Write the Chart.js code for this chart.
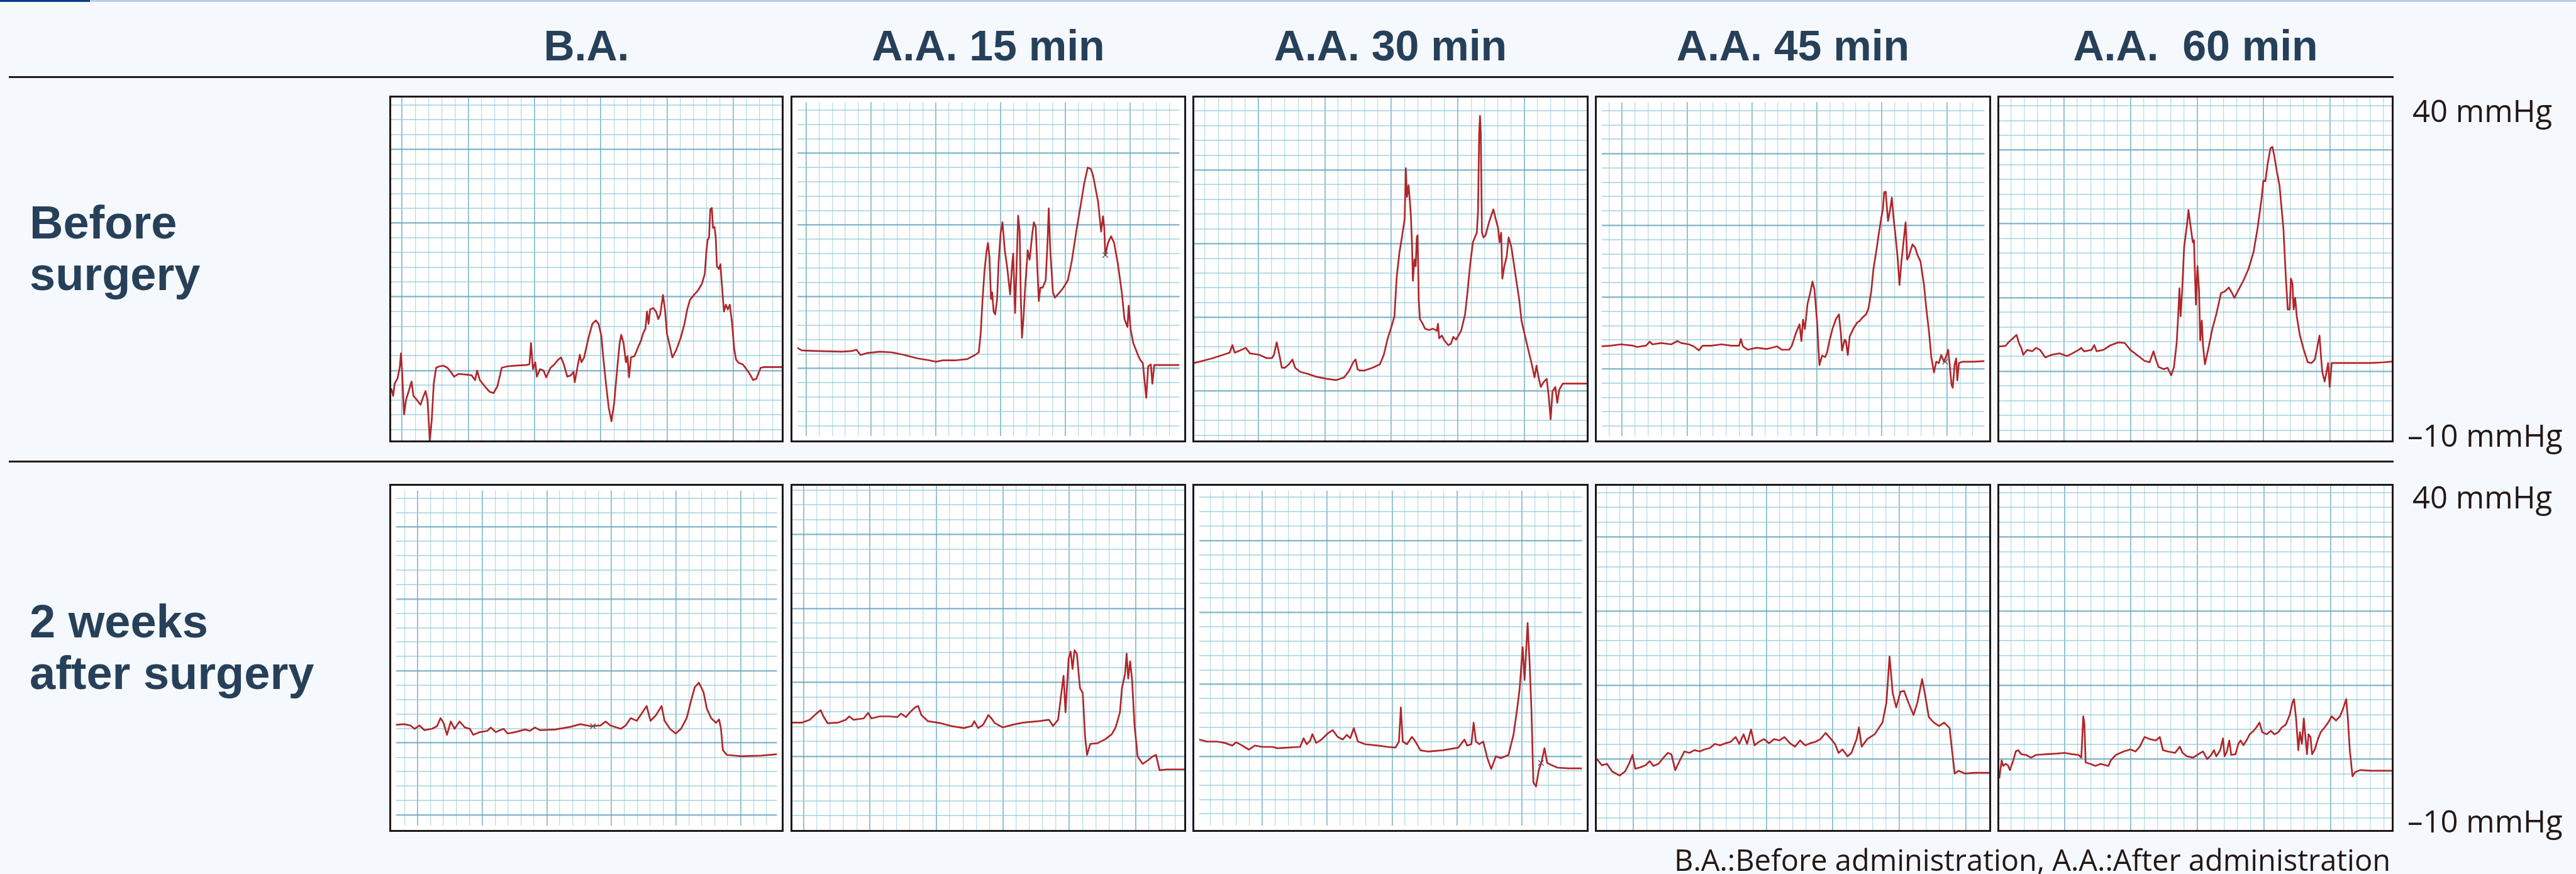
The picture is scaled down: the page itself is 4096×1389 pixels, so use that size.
<!DOCTYPE html>
<html><head><meta charset="utf-8">
<script src="https://cdn.jsdelivr.net/npm/chart.js@4.4.1/dist/chart.umd.min.js"></script>
<style>
html,body{margin:0;padding:0;background:#f5f9fd;}
#stage{position:relative;width:4096px;height:1389px;overflow:hidden;background:#f5f9fd;}
.panel{position:absolute;box-sizing:border-box;border:3px solid #1d1819;background:#ffffff;}
.panel canvas{display:block;}
#overlay{position:absolute;left:0;top:0;pointer-events:none;}
</style></head>
<body><div id="stage"></div>
<script>
// ---------------- categories / labels ----------------
const columns = ['B.A.', 'A.A. 15 min', 'A.A. 30 min', 'A.A. 45 min', 'A.A.  60 min'];
const rowLines = [['Before', 'surgery'], ['2 weeks', 'after surgery']];
const yTickTop = '40 mmHg';
const yTickBottom = '–10 mmHg';
const footnote = 'B.A.:Before administration, A.A.:After administration';
const yMin = -10, yMax = 40;   // mmHg
const xMin = 0, xMax = 100;    // % of recording window

// ---------------- series: [time %, pressure mmHg] ----------------
const beforeBA = [[0,-2.4],[0.5,-3.5],[0.9,-1.7],[1.6,-1.0],[2.2,0.7],[2.5,2.7],[2.8,0.0],[3.3,-6.2],[3.8,-4.1],[4.5,-2.8],[5.2,-1.4],[5.7,-3.5],[6.6,-4.1],[7.5,-4.8],[8.1,-3.8],[8.8,-2.8],[9.3,-4.1],[9.9,-10.0],[10.4,-6.9],[10.9,-1.7],[11.5,0.6],[12.3,0.8],[13.4,0.9],[14.4,0.6],[15.4,-0.1],[16.1,-0.7],[17.2,-0.3],[19.3,-0.4],[20.6,-0.5],[21.5,-1.2],[22.0,0.2],[22.7,-1.2],[24.1,-2.2],[25.2,-2.9],[26.2,-3.1],[27.2,-2.1],[28.3,0.6],[29.7,0.8],[31.7,0.9],[34.5,1.0],[35.4,1.1],[35.8,4.2],[36.3,0.4],[36.9,1.4],[37.3,-0.7],[38.1,0.4],[39.0,0.2],[39.7,-0.8],[40.8,0.6],[41.8,1.1],[42.8,1.8],[43.5,2.1],[44.2,1.1],[45.1,-0.7],[46.0,-0.5],[46.7,0.0],[47.0,-1.5],[47.7,0.7],[48.3,2.5],[48.7,1.4],[49.4,2.1],[50.5,4.9],[51.5,7.0],[52.4,7.5],[53.1,7.0],[53.8,5.3],[54.3,2.1],[55.0,-1.7],[55.7,-5.2],[56.4,-7.2],[57.1,-4.5],[57.8,0.0],[58.5,4.2],[58.9,5.4],[59.5,4.2],[60.1,1.4],[60.5,2.3],[60.9,-0.8],[61.4,2.1],[62.3,2.3],[63.3,3.7],[64.0,4.6],[64.5,5.6],[65.1,6.3],[65.5,8.8],[65.9,7.0],[66.3,9.1],[67.1,9.3],[67.8,8.8],[68.4,7.7],[68.9,8.4],[69.6,11.2],[70.1,9.1],[70.6,5.6],[71.3,3.9],[72.0,2.1],[73.0,3.2],[74.1,4.9],[75.1,7.0],[75.8,9.1],[76.5,10.5],[77.5,11.2],[78.6,11.9],[79.6,12.9],[80.3,14.3],[80.7,17.5],[81.0,19.2],[81.4,19.6],[81.7,23.7],[82.1,23.9],[82.4,21.0],[82.8,21.1],[83.1,19.6],[83.4,15.4],[83.9,15.0],[84.3,15.7],[84.6,13.3],[85.2,8.8],[85.7,9.8],[86.2,9.1],[86.7,9.8],[87.3,7.0],[87.8,3.5],[88.3,1.8],[89.0,1.3],[90.0,1.1],[90.7,0.6],[91.8,-0.3],[92.7,-1.2],[93.5,-1.0],[94.6,0.6],[95.6,0.7],[97.7,0.7],[100,0.7]];

const before15 = [[0,3.2],[1.2,2.8],[5.2,2.7],[11.7,2.6],[14.3,2.7],[15.5,2.9],[16.6,2.1],[18.3,2.4],[21.6,2.6],[24.8,2.5],[28.1,2.1],[31.4,1.6],[34.7,1.3],[36.3,1.1],[38.0,1.3],[41.3,1.3],[44.5,1.5],[46.5,2.1],[47.5,2.5],[48.0,5.3],[48.5,10.5],[49.0,14.7],[49.5,17.5],[49.9,18.9],[50.3,16.8],[50.7,10.5],[51.0,11.5],[51.4,8.6],[51.8,8.2],[52.3,10.5],[52.7,16.1],[53.2,20.3],[53.7,22.0],[54.3,17.8],[54.9,15.4],[55.7,11.2],[56.2,15.4],[56.5,17.3],[57.0,8.4],[57.5,17.5],[57.8,23.0],[58.2,20.6],[58.5,10.5],[58.8,4.7],[59.2,7.7],[59.6,11.9],[60.3,17.8],[60.8,16.4],[61.5,20.3],[61.9,22.0],[62.4,21.3],[62.8,15.4],[63.2,10.2],[63.6,12.2],[64.2,12.2],[65.0,13.3],[65.5,19.2],[65.8,24.1],[66.2,17.8],[66.9,11.5],[67.4,10.7],[68.2,11.2],[69.5,12.1],[70.8,13.3],[71.8,16.1],[73.1,21.0],[74.1,24.4],[75.1,27.9],[76.0,30.2],[76.8,30.0],[77.4,29.0],[78.0,27.2],[78.7,25.1],[79.5,20.6],[80.0,22.9],[80.3,21.3],[80.6,17.1],[81.3,18.9],[82.1,19.9],[82.9,18.9],[83.9,15.7],[84.9,11.5],[85.6,7.5],[86.4,6.3],[86.7,9.5],[87.2,6.0],[87.9,3.9],[89.2,2.0],[89.8,1.3],[90.4,0.9],[90.8,-1.4],[91.3,-4.3],[91.8,0.4],[92.5,0.7],[92.9,-2.2],[93.4,0.6],[94.4,0.6],[97.0,0.6],[100,0.6]];

const before30 = [[0,1.3],[2.1,1.6],[4.7,2.0],[7.4,2.5],[9.0,2.8],[9.7,3.9],[10.3,2.8],[12.0,3.2],[13.1,3.5],[14.2,2.7],[16.5,2.5],[18.5,2.0],[19.8,2.0],[20.3,2.5],[21.0,4.3],[21.6,2.7],[22.3,0.6],[23.1,0.6],[24.1,1.1],[25.0,1.8],[25.7,0.6],[27.0,0.0],[29.0,-0.3],[31.0,-0.7],[33.6,-1.0],[36.2,-1.2],[38.2,-0.8],[39.5,0.2],[40.5,1.4],[41.1,1.8],[41.6,0.4],[42.1,0.2],[43.4,0.2],[45.4,0.6],[47.3,1.1],[48.3,2.5],[49.3,4.9],[50.3,6.7],[51.0,8.1],[51.6,14.0],[52.3,17.5],[52.9,19.6],[53.6,22.3],[53.9,29.7],[54.2,25.5],[54.6,27.2],[54.9,25.1],[55.2,22.7],[55.5,18.2],[55.7,13.3],[56.1,16.4],[56.4,15.4],[56.7,19.6],[56.9,19.9],[57.2,10.5],[57.5,7.7],[58.2,7.0],[58.8,6.3],[59.8,6.1],[60.8,6.3],[61.8,6.0],[62.1,7.0],[62.4,4.9],[63.1,5.3],[63.7,4.6],[64.7,3.9],[65.4,4.1],[66.0,5.1],[66.7,4.7],[68.0,6.0],[69.0,8.4],[69.6,11.5],[70.3,15.7],[71.0,18.9],[71.5,19.6],[72.0,20.3],[72.3,23.4],[72.6,34.9],[72.8,37.3],[73.0,34.9],[73.3,20.3],[73.7,19.6],[74.2,19.9],[75.2,22.0],[76.2,23.7],[76.8,22.3],[77.4,21.0],[77.8,18.9],[78.2,20.3],[78.5,13.6],[79.0,15.4],[79.6,16.8],[80.1,19.6],[80.8,18.2],[81.8,14.3],[82.8,10.5],[83.4,7.4],[84.7,4.2],[86.0,1.1],[86.7,-0.8],[87.2,0.9],[87.7,-0.7],[88.3,-2.2],[89.0,-1.5],[89.8,-1.0],[90.3,-3.5],[90.8,-6.9],[91.3,-2.8],[92.0,-2.2],[92.5,-4.5],[93.0,-2.6],[93.9,-1.7],[96.5,-1.7],[100,-1.7]];

const before45 = [[0,3.4],[2.4,3.5],[5.1,3.7],[8.3,3.5],[9.3,3.3],[10.3,3.4],[11.6,3.5],[12.6,4.1],[13.3,3.7],[15.6,3.9],[18.2,3.7],[19.8,4.2],[20.8,3.9],[22.8,3.7],[24.1,3.4],[25.4,2.8],[26.4,3.5],[28.7,3.5],[31.3,3.7],[33.9,3.5],[35.9,3.5],[36.4,4.5],[36.9,3.4],[38.2,2.9],[40.5,3.2],[43.1,3.0],[45.8,3.4],[47.1,2.9],[49.0,2.9],[49.7,3.5],[50.7,5.3],[51.7,6.7],[52.2,4.2],[52.6,7.4],[53.1,6.0],[53.8,9.8],[54.4,11.2],[55.1,13.1],[55.6,11.9],[56.3,7.0],[56.6,3.5],[56.9,0.6],[57.6,2.0],[58.4,1.8],[58.9,2.5],[59.5,4.2],[60.3,6.0],[61.2,7.5],[62.0,8.2],[62.5,5.3],[62.8,2.8],[63.5,4.4],[63.8,4.2],[64.3,2.1],[64.8,4.9],[65.8,6.1],[66.8,7.0],[67.4,7.2],[68.1,7.7],[69.1,8.2],[69.7,9.1],[70.4,11.5],[71.0,15.0],[71.7,17.5],[72.3,19.9],[73.0,22.5],[73.5,24.1],[73.8,26.5],[74.2,26.6],[74.5,24.4],[74.8,22.2],[75.3,23.7],[75.8,25.7],[76.3,22.3],[76.7,20.3],[77.3,16.8],[77.8,12.6],[78.3,16.1],[78.7,18.2],[79.2,21.0],[79.4,22.0],[79.8,16.4],[80.2,16.8],[80.7,17.8],[81.2,18.7],[81.9,18.2],[82.5,17.1],[83.3,16.1],[84.2,12.6],[84.8,9.1],[85.5,5.6],[86.1,1.8],[86.8,-0.5],[87.4,1.1],[88.1,0.9],[88.7,2.1],[89.4,1.1],[90.1,2.1],[90.5,2.9],[90.9,0.7],[91.4,-2.4],[91.7,-2.8],[92.2,0.7],[92.6,1.6],[92.9,-1.7],[93.3,0.9],[94.3,1.1],[97.0,1.1],[100,1.2]];

const before60 = [[0,3.7],[1.6,3.8],[2.5,4.4],[3.5,4.9],[4.4,5.4],[5.0,4.2],[5.6,3.5],[6.1,2.5],[7.1,3.2],[8.4,3.0],[9.4,3.5],[10.4,3.2],[11.7,2.1],[13.4,2.5],[15.3,2.7],[17.3,2.3],[18.6,2.7],[20.2,3.2],[20.9,3.5],[21.6,3.0],[23.5,3.2],[24.2,3.9],[24.8,3.0],[26.5,3.2],[28.4,3.9],[30.4,4.3],[32.0,4.2],[33.4,3.2],[35.0,2.5],[37.0,1.6],[38.3,1.4],[39.3,3.0],[39.9,1.8],[40.6,0.7],[41.9,0.4],[42.9,0.6],[43.8,-0.5],[44.5,0.7],[45.2,4.2],[45.6,8.4],[45.9,12.2],[46.2,8.1],[46.6,11.9],[47.1,18.2],[47.8,21.3],[48.2,23.6],[48.8,21.0],[49.3,18.9],[49.6,19.2],[50.1,9.8],[50.5,15.4],[50.9,11.9],[51.2,4.6],[51.6,7.5],[51.9,3.9],[52.4,1.1],[53.2,3.2],[54.3,6.3],[55.3,8.4],[56.5,11.5],[57.4,11.7],[58.5,12.3],[59.3,11.5],[59.9,10.8],[60.9,11.9],[62.2,13.3],[63.5,15.0],[64.8,17.5],[65.8,20.9],[66.8,25.1],[67.3,27.9],[67.8,27.8],[68.4,30.4],[69.1,32.6],[69.6,32.8],[70.1,31.4],[70.7,29.3],[71.4,27.2],[72.4,20.9],[73.0,14.0],[73.5,9.1],[74.0,9.1],[74.3,13.6],[74.7,12.9],[75.0,9.1],[75.4,10.8],[75.8,8.1],[76.6,5.3],[77.6,3.2],[78.6,1.4],[79.6,1.3],[80.4,1.8],[81.0,3.5],[81.6,5.3],[81.9,2.8],[82.3,0.0],[82.9,-1.4],[83.4,0.0],[83.8,1.3],[84.2,-2.2],[84.7,1.3],[85.5,1.3],[89.4,1.3],[94.7,1.3],[98.0,1.4],[100,1.5]];

const afterBA = [[0,5.0],[2.2,5.1],[3.8,4.9],[4.9,4.4],[6.2,4.9],[7.5,4.2],[9.5,4.4],[10.8,4.8],[11.7,6.0],[12.5,5.3],[13.4,3.5],[14.4,5.5],[15.4,4.4],[16.7,5.5],[18.1,4.6],[19.4,4.4],[20.3,3.5],[22.0,3.9],[24.0,4.1],[24.9,4.6],[26.2,3.9],[27.3,4.2],[28.3,4.4],[29.3,3.7],[31.2,3.9],[33.9,4.3],[35.2,4.1],[36.5,4.6],[37.8,4.2],[41.8,4.3],[45.8,4.7],[48.4,5.1],[51.0,4.8],[53.7,4.9],[55.0,5.5],[56.3,4.9],[59.0,4.4],[60.3,4.9],[61.6,6.0],[63.2,5.6],[64.5,6.7],[65.8,7.8],[66.8,5.6],[68.2,6.4],[69.7,7.8],[70.5,5.6],[71.9,4.4],[73.4,3.7],[74.8,4.4],[76.3,6.0],[77.4,8.5],[78.4,10.6],[79.5,11.3],[80.7,9.9],[81.6,7.4],[82.7,6.0],[84.0,5.3],[84.8,5.8],[85.3,4.4],[85.8,1.2],[86.9,0.5],[90.6,0.3],[95.9,0.4],[100,0.6]];

const after15 = [[0,5.6],[2.5,5.6],[4.4,6.0],[6.1,6.9],[7.2,7.4],[8.0,6.4],[9.0,5.5],[11.7,5.6],[13.6,6.0],[14.5,6.5],[15.6,6.0],[18.2,6.2],[19.3,7.0],[20.2,6.2],[22.2,6.5],[24.8,6.5],[26.8,6.4],[27.7,6.9],[29.0,6.4],[30.0,7.1],[31.3,7.8],[32.1,8.0],[32.9,6.7],[34.6,5.8],[37.9,5.5],[40.5,5.1],[43.8,4.8],[45.8,5.1],[46.4,5.8],[47.4,4.8],[48.7,5.3],[50.0,6.7],[50.8,6.2],[51.7,5.5],[53.7,4.9],[56.3,5.3],[58.9,5.6],[62.8,5.8],[65.5,6.0],[66.5,5.1],[67.8,6.0],[68.8,10.6],[69.2,12.4],[69.7,7.1],[70.5,14.9],[71.0,15.9],[71.5,13.4],[72.0,16.1],[72.6,15.6],[73.4,10.6],[74.1,9.9],[74.7,3.5],[75.2,0.9],[76.0,2.5],[77.9,2.6],[79.9,3.2],[81.5,3.9],[82.5,4.9],[83.6,7.1],[84.1,10.6],[84.9,12.7],[85.3,15.6],[85.7,12.0],[86.2,14.5],[86.7,11.7],[87.3,5.3],[88.1,0.7],[89.4,-0.4],[90.7,0.1],[92.0,0.7],[92.8,0.9],[93.7,-1.3],[95.7,-1.2],[100,-1.2]];

const after30 = [[0,2.8],[2.1,2.5],[4.7,2.5],[6.7,2.3],[8.7,1.9],[9.7,2.4],[11.3,1.9],[13.0,1.3],[14.6,1.9],[16.5,1.7],[19.2,1.7],[20.5,1.5],[23.1,1.6],[26.4,1.7],[27.3,3.0],[28.1,2.1],[29.0,2.6],[29.6,3.6],[30.6,2.3],[32.0,2.8],[33.6,3.7],[34.9,4.2],[36.2,3.2],[37.5,2.8],[38.6,3.5],[39.5,3.0],[40.4,4.5],[41.5,2.5],[43.4,2.1],[46.7,1.9],[49.3,1.7],[51.3,1.6],[52.2,2.5],[52.7,7.6],[53.2,2.5],[54.3,2.1],[55.6,3.2],[56.5,2.5],[57.8,1.2],[59.8,1.0],[63.7,1.2],[67.7,1.6],[69.3,2.8],[70.0,1.9],[71.1,2.1],[71.7,5.3],[72.3,2.5],[73.2,2.1],[74.2,2.5],[75.3,0.0],[76.3,-1.6],[77.5,0.3],[78.8,0.0],[80.8,0.5],[82.1,3.5],[83.0,7.1],[83.7,10.3],[84.5,16.6],[85.0,11.7],[85.8,20.2],[86.3,14.5],[86.8,7.1],[87.3,-3.6],[88.0,-4.2],[88.7,-1.8],[89.4,-0.6],[90.2,1.5],[90.9,-0.7],[92.0,-1.0],[93.6,-1.4],[96.5,-1.5],[100,-1.5]];

const after45 = [[0,0.3],[1.3,-0.6],[2.6,-0.4],[3.9,-1.5],[5.8,-2.1],[7.2,-1.5],[8.2,-0.4],[9.1,0.9],[9.8,-1.1],[11.1,-0.9],[12.4,-0.6],[13.5,0.0],[14.4,-0.7],[15.7,-0.4],[17.0,0.5],[18.1,1.2],[19.0,1.0],[20.0,-1.3],[20.9,-0.2],[22.3,1.4],[23.6,1.2],[24.9,1.6],[26.2,1.4],[27.5,1.7],[28.8,1.9],[30.1,2.5],[31.4,2.3],[32.8,2.6],[34.1,2.8],[35.4,3.5],[36.3,2.5],[37.4,3.9],[38.3,2.5],[39.3,4.6],[40.2,2.3],[41.3,2.8],[42.6,3.2],[43.9,2.6],[45.2,3.2],[46.5,3.0],[47.8,3.5],[49.2,2.6],[50.5,2.1],[51.8,3.0],[53.1,2.3],[54.4,2.6],[55.7,2.8],[57.0,3.2],[58.3,4.1],[59.7,3.2],[60.7,2.5],[61.6,1.2],[62.6,1.7],[63.9,0.7],[64.9,1.2],[66.2,3.2],[66.8,4.9],[67.5,2.1],[68.9,3.2],[70.8,3.9],[72.8,5.6],[73.8,8.5],[74.6,15.2],[75.4,9.9],[76.3,7.8],[77.4,10.1],[78.3,10.2],[79.4,8.5],[80.7,6.7],[81.7,8.5],[82.9,11.9],[83.7,9.5],[84.6,6.4],[85.9,5.6],[87.2,5.1],[88.5,5.6],[89.9,4.8],[90.5,1.7],[91.2,-1.8],[92.2,-1.4],[93.8,-1.8],[96.4,-1.7],[100,-1.7]];

const after60 = [[0,-2.5],[0.6,0.1],[1.0,-0.7],[1.6,-0.4],[2.2,-0.6],[2.7,-1.3],[3.5,0.0],[4.2,1.4],[4.8,1.6],[5.6,1.0],[6.8,0.9],[8.1,0.5],[9.4,0.9],[12.0,1.0],[14.7,1.1],[16.6,1.2],[18.6,1.0],[20.2,0.9],[20.9,0.5],[21.4,6.5],[21.7,5.3],[22.0,-0.2],[23.2,-0.4],[24.5,-0.7],[25.8,-0.4],[27.1,-0.6],[27.8,-0.7],[28.4,0.1],[29.7,0.9],[31.7,1.4],[33.4,1.7],[34.7,1.4],[35.8,2.1],[37.0,3.5],[38.3,3.2],[39.9,3.0],[40.9,3.5],[41.7,1.6],[42.9,1.4],[44.8,1.2],[46.0,2.1],[46.7,1.2],[47.8,0.7],[49.4,0.5],[50.7,1.0],[51.9,1.4],[53.0,0.3],[54.0,0.9],[54.7,1.6],[55.3,0.7],[56.3,1.6],[57.0,3.3],[57.4,0.7],[58.0,1.4],[58.6,3.0],[59.1,0.9],[60.2,1.0],[60.9,2.5],[61.5,3.0],[62.2,2.3],[63.2,3.2],[63.8,3.9],[64.8,4.4],[65.5,4.9],[66.3,5.6],[67.0,4.2],[68.1,3.9],[69.2,4.4],[70.1,3.9],[71.1,4.2],[72.0,4.9],[73.0,5.3],[74.0,6.7],[74.7,8.5],[75.1,9.0],[75.6,6.4],[76.2,1.6],[76.6,4.2],[77.1,2.5],[77.6,6.2],[78.4,1.0],[78.8,3.9],[79.3,3.5],[79.7,1.0],[80.4,1.7],[81.2,3.2],[81.9,4.2],[82.9,4.9],[83.8,5.6],[84.7,6.5],[85.8,5.9],[86.8,6.5],[87.6,7.6],[88.4,9.0],[88.8,6.4],[89.3,1.7],[90.0,-2.2],[90.7,-1.6],[92.0,-1.3],[94.7,-1.4],[97.3,-1.4],[100,-1.4]];

// event marks (×) on the recordings
const marksBefore15 = [[80.6,17.1]];
const marksBefore45 = [[89.7,1.1]];
const marksAfterBA = [[51.7,4.8]];
const marksAfter30 = [[89.3,-0.7]];

const seriesGrid = [
  [beforeBA, before15, before30, before45, before60],
  [afterBA, after15, after30, after45, after60]
];
const marksGrid = [
  [[], marksBefore15, [], marksBefore45, []],
  [marksAfterBA, [], marksAfter30, [], []]
];

// ---------------- layout / style (not data) ----------------
const W = 4096, H = 1389;
const colLeft = [619, 1257, 1896, 2536, 3176];
const colRight = [1246, 1886, 2526, 3166, 3806];
const rowTop = [152, 769];
const rowBottom = [703, 1322];
const BORDER = 3;
const TRACE = '#b0262a';
const MAJ = 'rgba(105,168,192,0.78)';
const MIN = 'rgba(150,205,218,0.68)';
const MAJOR_X = 16.95, MAJOR_Y = 10.75;   // graph-paper pitch in axis units
const gridPhase = [
  [[2.8,0.2],[2.4,0.1],[-0.65,-2.8],[5.4,0.05],[-0.45,0.1]],
  [[5.7,2.3],[2.85,0.7],[-0.45,0.3],[9.3,0.3],[-0.35,0.3]]
];

function paperTicks(phase, major, lo, hi) {
  const step = major / 5, out = [];
  const k0 = Math.ceil((lo - phase) / step), k1 = Math.floor((hi - phase) / step);
  for (let k = k0; k <= k1; k++) {
    const v = phase + k * step;
    if (v <= lo + 0.05 || v >= hi - 0.05) continue;
    out.push({ value: v, major: ((k % 5) + 5) % 5 === 0 });
  }
  return out;
}

const stage = document.getElementById('stage');

function makePanel(r, c) {
  const div = document.createElement('div');
  div.className = 'panel';
  const w = colRight[c] - colLeft[c], h = rowBottom[r] - rowTop[r];
  div.style.left = colLeft[c] + 'px';
  div.style.top = rowTop[r] + 'px';
  div.style.width = w + 'px';
  div.style.height = h + 'px';
  const cv = document.createElement('canvas');
  cv.width = w - 2 * BORDER; cv.height = h - 2 * BORDER;
  cv.style.width = cv.width + 'px'; cv.style.height = cv.height + 'px';
  div.appendChild(cv);
  stage.appendChild(div);
  const ph = gridPhase[r][c];
  const gridOpts = (horizontal) => ({
    drawTicks: false,
    color: (ctx) => (ctx.tick && ctx.tick.major) ? MAJ : MIN,
    lineWidth: (ctx) => (ctx.tick && ctx.tick.major) ? (horizontal ? 2.4 : 1.8) : (horizontal ? 2.0 : 1.3)
  });
  new Chart(cv, {
    type: 'line',
    data: {
      datasets: [
        { data: seriesGrid[r][c], borderColor: TRACE, borderWidth: 2.7, pointRadius: 0, pointHoverRadius: 0, tension: 0, fill: false, borderJoinStyle: 'round', order: 1 },
        { type: 'scatter', data: marksGrid[r][c], pointStyle: 'crossRot', pointRadius: 6, borderColor: '#5a5a5a', backgroundColor: '#5a5a5a', borderWidth: 1.5, order: 0 }
      ]
    },
    options: {
      responsive: false, maintainAspectRatio: false, animation: false, devicePixelRatio: 1,
      events: [],
      layout: { padding: 0 },
      plugins: { legend: { display: false }, tooltip: { enabled: false } },
      scales: {
        x: {
          type: 'linear', min: xMin, max: xMax,
          afterBuildTicks: (s) => { s.ticks = paperTicks(ph[0], MAJOR_X, xMin, xMax); },
          ticks: { display: false, autoSkip: false },
          grid: gridOpts(false),
          border: { display: false }
        },
        y: {
          type: 'linear', min: yMin, max: yMax,
          afterBuildTicks: (s) => { s.ticks = paperTicks(ph[1], MAJOR_Y, yMin, yMax); },
          ticks: { display: false, autoSkip: false },
          grid: gridOpts(true),
          border: { display: false }
        }
      }
    }
  });
}

for (let r = 0; r < 2; r++) for (let c = 0; c < 5; c++) makePanel(r, c);

// ---------------- text & rules overlay ----------------
const NS = 'http://www.w3.org/2000/svg';
const svg = document.createElementNS(NS, 'svg');
svg.setAttribute('id', 'overlay');
svg.setAttribute('width', W); svg.setAttribute('height', H);
stage.appendChild(svg);

function rect(x, y, w, h, fill) {
  const e = document.createElementNS(NS, 'rect');
  e.setAttribute('x', x); e.setAttribute('y', y); e.setAttribute('width', w); e.setAttribute('height', h);
  e.setAttribute('fill', fill); svg.appendChild(e);
}
function text(str, x, y, anchor, font, fill) {
  const e = document.createElementNS(NS, 'text');
  e.setAttribute('x', x); e.setAttribute('y', y);
  e.setAttribute('text-anchor', anchor);
  e.setAttribute('style', 'font:' + font + ';white-space:pre;');
  e.setAttribute('fill', fill);
  e.textContent = str; svg.appendChild(e);
}

rect(0, 0, W, 3, '#b8cde9');
rect(0, 0, 143, 3, '#003b8e');
rect(14, 121, 3792, 3, '#221b1a');
rect(14, 732, 3792, 3, '#221b1a');

const NAVY = '#27405a';
columns.forEach((t, c) => {
  text(t, (colLeft[c] + colRight[c]) / 2, 96, 'middle', 'bold 68px "Liberation Sans", Arial, sans-serif', NAVY);
});
const rowBase = [[379, 461], [1013, 1095]];
rowLines.forEach((lines, r) => lines.forEach((t, i) => {
  text(t, 47, rowBase[r][i], 'start', 'bold 74px "Liberation Sans", Arial, sans-serif', NAVY);
}));
const INK = '#231816';
const TICKF = '49px "Open Sans", sans-serif';
text(yTickTop, 3836, 194, 'start', TICKF, INK);
text(yTickBottom, 3828, 710, 'start', TICKF, INK);
text(yTickTop, 3836, 808, 'start', TICKF, INK);
text(yTickBottom, 3828, 1323, 'start', TICKF, INK);
text(footnote, 3801, 1384, 'end', '47px "Open Sans", sans-serif', INK);
</script>
</body></html>
